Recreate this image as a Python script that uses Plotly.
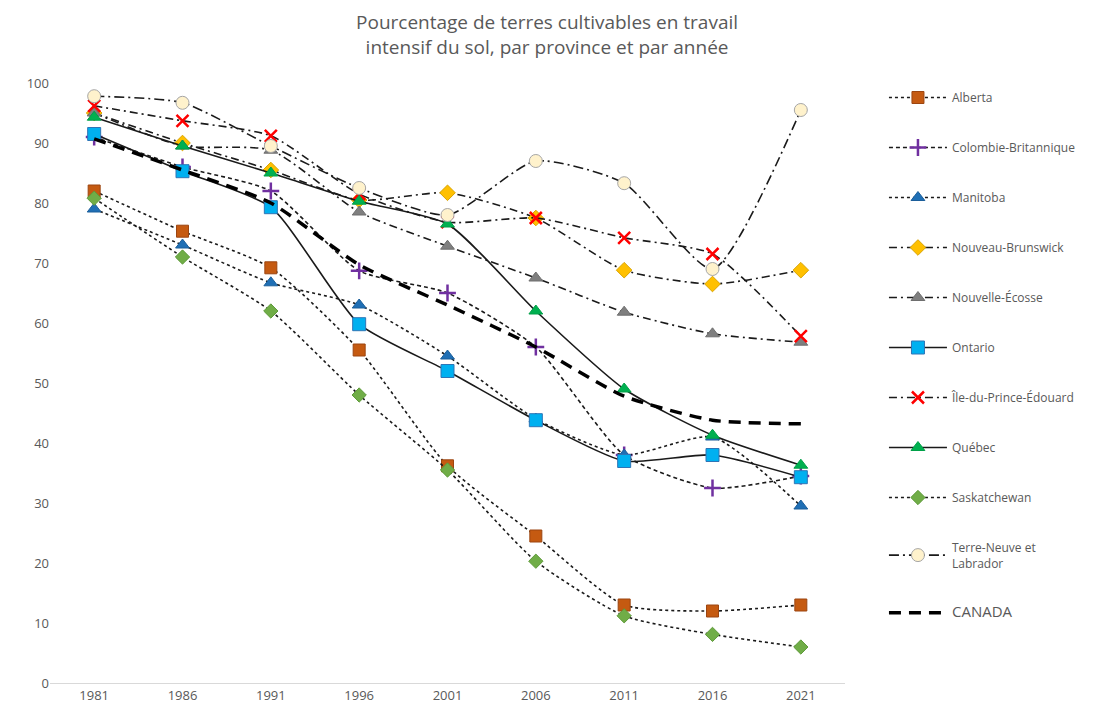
import plotly.graph_objects as go

years = ["1981", "1986", "1991", "1996", "2001", "2006", "2011", "2016", "2021"]

alberta = [82.0, 75.3, 69.2, 55.5, 36.2, 24.5, 13.0, 12.0, 13.0]
colombie_britannique = [91.0, 86.0, 82.0, 68.7, 65.0, 56.0, 38.0, 32.5, 34.5]
manitoba = [79.0, 73.0, 66.7, 63.0, 54.5, 44.0, 38.0, 41.0, 29.5]
nouveau_brunswick = [95.0, 90.0, 85.5, 80.5, 81.7, 77.5, 68.8, 66.5, 68.8]
nouvelle_ecosse = [95.0, 89.5, 88.8, 78.5, 72.8, 67.5, 61.8, 58.2, 56.8]
ontario = [91.5, 85.3, 79.3, 59.8, 52.0, 43.8, 37.0, 38.0, 34.3]
ile_du_prince_edouard = [96.2, 93.7, 91.2, 81.5, 76.8, 77.5, 74.2, 71.5, 57.8]
quebec = [94.3, 89.5, 85.0, 80.3, 76.5, 62.0, 49.0, 41.3, 36.3]
saskatchewan = [80.8, 71.0, 62.0, 48.0, 35.5, 20.3, 11.2, 8.1, 6.0]
terre_neuve = [97.8, 96.7, 89.5, 82.5, 78.0, 87.0, 83.3, 69.0, 95.5]
canada = [90.7, 85.5, 80.0, 69.7, 63.0, 56.0, 47.8, 43.8, 43.2]

# name, values, dash, symbol, fill colour, outline colour, marker size
series = [
    ("Alberta", alberta, "dot", "square", "#C55A11", "#9C4510", 12),
    ("Colombie-Britannique", colombie_britannique, "4px,3px", "cross-thin", "#7030A0", "#7030A0", 12),
    ("Manitoba", manitoba, "dot", "triangle-up", "#1F6FB5", "#1B5E9A", 12),
    ("Nouveau-Brunswick", nouveau_brunswick, "8px,4px,2px,4px", "diamond", "#FFC000", "#D9A300", 12),
    ("Nouvelle-Écosse", nouvelle_ecosse, "8px,4px,2px,4px", "triangle-up", "#7F7F7F", "#6E6E6E", 12),
    ("Ontario", ontario, "solid", "square", "#00B0F0", "#2E75B6", 13),
    ("Île-du-Prince-Édouard", ile_du_prince_edouard, "8px,4px,2px,4px", "x-thin", "#FF0000", "#FF0000", 12),
    ("Québec", quebec, "solid", "triangle-up", "#00B050", "#00A048", 12),
    ("Saskatchewan", saskatchewan, "dot", "diamond", "#70AD47", "#5E9A3A", 11),
    ("Terre-Neuve et<br>Labrador", terre_neuve, "10px,4px,2px,4px", "circle", "#FFF2CC", "#A6A6A6", 13),
]

fig = go.Figure()

for i, (name, vals, dash, sym, fill, edge, size) in enumerate(series):
    thin = sym.endswith("-thin")
    fig.add_trace(go.Scatter(
        x=years, y=vals, name=name, legendgroup=str(i),
        mode="lines+markers",
        line=dict(color="#1a1a1a", width=1.6, dash=dash, shape="spline", smoothing=0.6),
        marker=dict(symbol=sym, size=size, color=fill,
                    line=dict(color=edge, width=2.5 if thin else 1)),
    ))

fig.add_trace(go.Scatter(
    x=years, y=canada, name="<span style='font-size:15px'>CANADA</span>",
    legendgroup="canada", mode="lines",
    line=dict(color="#000000", width=3.5, dash="12px,8px", shape="spline", smoothing=0.6),
))

fig.update_layout(
    width=1089, height=707,
    paper_bgcolor="white", plot_bgcolor="white",
    font=dict(family="Open Sans", color="#595959", size=12),
    title=dict(
        text="Pourcentage de terres cultivables en travail<br>intensif du sol, par province et par année",
        x=0.495, xref="container", xanchor="center", y=0.97, yanchor="top",
        font=dict(size=19, color="#595959"),
    ),
    margin=dict(l=42, r=252, t=75, b=32),
    showlegend=True,
    legend=dict(
        x=1.049, xanchor="left", y=1.0, yanchor="top",
        tracegroupgap=31, itemwidth=58, maxheight=700,
        font=dict(size=12, color="#595959"),
        bgcolor="rgba(0,0,0,0)",
    ),
    xaxis=dict(
        type="category", range=[-0.5, 8.5],
        showgrid=False, showline=True, linecolor="#D9D9D9", linewidth=1,
        ticks="", tickfont=dict(size=13, color="#595959"), zeroline=False,
    ),
    yaxis=dict(
        range=[0, 100], dtick=10, showgrid=False, showline=False, zeroline=False,
        ticks="", tickfont=dict(size=13, color="#595959"),
    ),
)

fig.write_html("out.html")
